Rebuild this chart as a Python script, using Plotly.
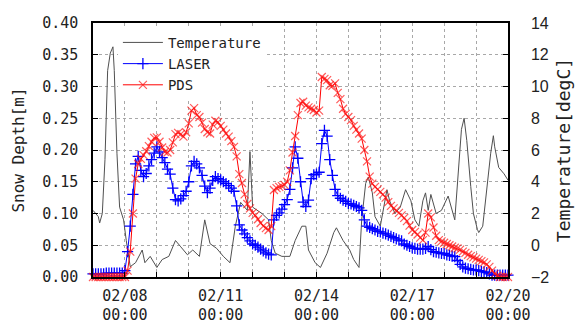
import pandas as pd
import plotly.graph_objects as go

# ---- data ----
start = pd.Timestamp("2014-02-07 00:00")

# snow depth series, sampled every 2 hours from 02/07 00:00 to 02/20 00:00
snow_step_hours = 2
laser_depth = [
    0.005, 0.005, 0.005, 0.005, 0.005, 0.006, 0.006, 0.006, 0.006, 0.006, 0.006, 0.006,
    0.01, 0.04, 0.08, 0.13, 0.178, 0.19, 0.168, 0.158, 0.163, 0.175, 0.185, 0.195,
    0.205, 0.197, 0.188, 0.18, 0.17, 0.162, 0.14, 0.122, 0.12, 0.123, 0.128, 0.135,
    0.15, 0.175, 0.182, 0.178, 0.172, 0.16, 0.143, 0.133, 0.14, 0.152, 0.158, 0.155,
    0.153, 0.15, 0.147, 0.144, 0.14, 0.135, 0.112, 0.082, 0.074, 0.068, 0.062, 0.057,
    0.052, 0.05, 0.047, 0.044, 0.041, 0.038, 0.036, 0.035, 0.09, 0.097, 0.101, 0.107,
    0.114, 0.122, 0.138, 0.172, 0.205, 0.187, 0.15, 0.118, 0.111, 0.121, 0.155, 0.161,
    0.162, 0.165, 0.21, 0.231, 0.222, 0.185, 0.16, 0.138, 0.128, 0.124, 0.121, 0.119,
    0.116, 0.115, 0.113, 0.111, 0.109, 0.105, 0.09, 0.08, 0.078, 0.076, 0.074, 0.072,
    0.071, 0.069, 0.068, 0.066, 0.064, 0.062, 0.06, 0.058, 0.057, 0.052, 0.05, 0.048,
    0.046, 0.045, 0.044, 0.044, 0.044, 0.045, 0.048, 0.043, 0.04, 0.039, 0.038, 0.037,
    0.037, 0.035, 0.034, 0.033, 0.032, 0.026, 0.02, 0.016, 0.014, 0.013, 0.012, 0.011,
    0.011, 0.01, 0.009, 0.008, 0.007, 0.005, 0.003, 0.003, 0.003, 0.003, 0.003, 0.003,
    0.003,
]
pds_depth = [
    0, 0, 0, 0, 0, 0, 0, 0, 0, 0, 0, 0,
    0, 0.01, 0.04, 0.1, 0.155, 0.178, 0.186, 0.192, 0.198, 0.206, 0.213, 0.219,
    0.22, 0.213, 0.204, 0.197, 0.196, 0.2, 0.212, 0.225, 0.227, 0.225, 0.221, 0.228,
    0.242, 0.262, 0.266, 0.255, 0.252, 0.243, 0.233, 0.228, 0.226, 0.24, 0.246, 0.244,
    0.238, 0.232, 0.226, 0.221, 0.214, 0.205, 0.19, 0.162, 0.148, 0.13, 0.115, 0.108,
    0.101, 0.097, 0.091, 0.085, 0.08, 0.077, 0.074, 0.08, 0.137, 0.14, 0.142, 0.143,
    0.145, 0.15, 0.168, 0.196, 0.222, 0.255, 0.274, 0.276, 0.27, 0.267, 0.265, 0.263,
    0.259, 0.262, 0.315, 0.312, 0.31, 0.302, 0.301, 0.305, 0.29, 0.28, 0.265, 0.257,
    0.252, 0.247, 0.238, 0.232, 0.226, 0.218, 0.2, 0.182, 0.158, 0.147, 0.142, 0.138,
    0.134, 0.13, 0.125, 0.118, 0.112, 0.108, 0.105, 0.101, 0.097, 0.093, 0.088, 0.081,
    0.074, 0.071, 0.067, 0.062, 0.058, 0.07, 0.1, 0.094, 0.078, 0.065, 0.058, 0.056,
    0.054, 0.052, 0.05, 0.048, 0.046, 0.045, 0.043, 0.04, 0.038, 0.035, 0.033, 0.031,
    0.029, 0.027, 0.025, 0.023, 0.02, 0.016, 0.01, 0.005, 0.002, 0, 0, 0,
    0,
]

# temperature, read at hours after 02/07 00:00
temp_hours = [
    0, 4, 5, 7, 9, 11, 13, 15, 16, 18, 20, 23, 25, 28, 32, 37, 39, 43, 48, 52,
    57, 62, 66, 71, 75, 80, 84, 88, 93, 98, 103, 107, 111, 116, 118, 120, 127, 132,
    134, 137, 142, 148, 152, 157, 160, 162, 167, 171, 176, 181, 183, 188, 193, 196,
    200, 202, 205, 207, 210, 212, 216, 218, 221, 223, 227, 231, 235, 239, 242, 245,
    248, 250, 252, 254, 258, 262, 267, 272, 275, 277, 279, 281, 284, 286, 289, 290,
    293, 296, 299, 301, 302, 305, 309, 312,
]
temp_degc = [
    2.2, 1.8, 1.4, 2.0, 5.4, 11.0, 12.1, 12.5, 11.0, 5.8, 2.4, 1.6, 0.3, -1.35, -1.1,
    -0.3, -1.1, -0.7, -1.4, -0.9, -0.7, 0.3, -0.1, -0.6, -0.3, -0.7, 1.6, 0.1, -0.2,
    -0.7, -1.1, 1.2, 2.7, 2.2, 5.9, 2.4, 2.0, 1.6, 0.3, -0.5, -0.7, -0.7, 0.3, 1.2,
    1.2, -0.3, -1.1, -1.4, -0.5, 0.8, 1.1, 0.3, -0.3, -0.9, -1.4, 1.6, 3.9, 4.3, 3.3,
    1.8, 1.2, 2.2, 3.5, 2.8, 2.0, 2.4, 3.5, 2.8, 1.6, 1.2, 2.8, 3.3, 2.2, 3.2, 2.0,
    2.2, 3.1, 1.6, 5.2, 7.3, 8.0, 6.6, 3.7, 2.0, 1.0, 0.8, 1.2, 3.7, 5.8, 6.9, 6.2,
    4.9, 4.5, 4.1,
]

tick_days = list(range(0, 14))
label_every = 3
snow_ticks = [0.0, 0.05, 0.10, 0.15, 0.20, 0.25, 0.30, 0.35, 0.40]
temp_ticks = [-2, 0, 2, 4, 6, 8, 10, 12, 14]

# ---- build ----
snow_times = [start + pd.Timedelta(hours=snow_step_hours * i) for i in range(len(laser_depth))]
temp_times = [start + pd.Timedelta(hours=h) for h in temp_hours]
tickvals = [start + pd.Timedelta(days=d) for d in tick_days]
ticktext = [
    (t.strftime("%m/%d") + "<br>" + t.strftime("%H:%M")) if (d - 1) % label_every == 0 else ""
    for d, t in zip(tick_days, tickvals)
]

MONO = "DejaVu Sans Mono"
fig = go.Figure()
fig.add_trace(go.Scatter(
    x=temp_times, y=temp_degc, name="Temperature", mode="lines",
    line=dict(color="#505050", width=1), yaxis="y",
))
fig.add_trace(go.Scatter(
    x=snow_times, y=laser_depth, name="LASER", mode="lines+markers",
    line=dict(color="#0000ff", width=1),
    marker=dict(symbol="cross-thin", size=8, line=dict(color="#0000ff", width=1.3)),
    yaxis="y2", cliponaxis=False,
))
fig.add_trace(go.Scatter(
    x=snow_times, y=pds_depth, name="PDS", mode="lines+markers",
    line=dict(color="#ff0000", width=1),
    marker=dict(symbol="x-thin", size=8, line=dict(color="rgba(255,20,20,0.7)", width=1.2)),
    yaxis="y2", cliponaxis=False,
))

fig.update_layout(
    width=583, height=323,
    margin=dict(l=93, r=75, t=23, b=46),
    paper_bgcolor="white", plot_bgcolor="white",
    font=dict(family=MONO, size=15, color="#222"),
    showlegend=True,
    legend=dict(
        x=0.06, y=0.985, xanchor="left", yanchor="top",
        bgcolor="white", borderwidth=0,
        font=dict(family=MONO, size=14, color="#222"),
        itemwidth=40, tracegroupgap=0,
    ),
    xaxis=dict(
        type="date", automargin=False,
        range=[start, start + pd.Timedelta(days=13)],
        tickmode="array", tickvals=tickvals, ticktext=ticktext,
        showgrid=True, gridcolor="#a8a8a8", griddash="dot", gridwidth=1,
        ticks="inside", ticklen=5, tickcolor="black",
        showline=True, linecolor="black", linewidth=1.5, mirror=True,
        tickfont=dict(family=MONO, size=15, color="#222"),
        ticklabelstandoff=4,
        zeroline=False,
    ),
    yaxis=dict(
        side="right", range=[-2, 14], automargin=False,
        tickmode="array", tickvals=temp_ticks,
        showgrid=True, gridcolor="#a8a8a8", griddash="dot", gridwidth=1,
        ticks="inside", ticklen=5, tickcolor="black",
        showline=True, linecolor="black", linewidth=1.5,
        zeroline=False,
        tickfont=dict(family="Liberation Sans", size=16, color="#222"),
        ticklabelstandoff=18,
        title=dict(text="Temperature[degC]", font=dict(family=MONO, size=18, color="#222"), standoff=9),
    ),
    yaxis2=dict(
        overlaying="y", side="left", range=[0, 0.4], automargin=False,
        tickmode="array", tickvals=snow_ticks, tickformat=".2f",
        showgrid=False,
        ticks="inside", ticklen=5, tickcolor="black",
        showline=True, linecolor="black", linewidth=1.5,
        zeroline=False,
        tickfont=dict(family=MONO, size=15, color="#222"),
        ticklabelstandoff=10,
        title=dict(text="Snow Depth[m]", font=dict(family=MONO, size=16, color="#222"), standoff=14),
    ),
)

fig.write_html("out.html")
